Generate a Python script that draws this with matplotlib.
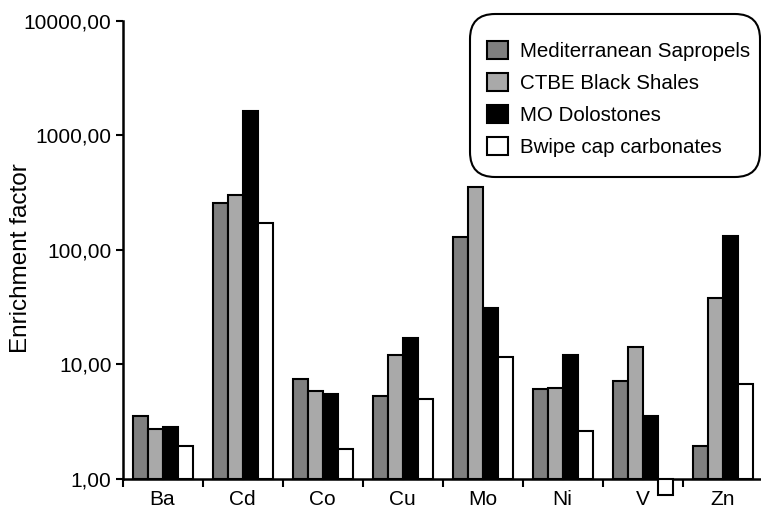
import numpy as np
import matplotlib
matplotlib.use("Agg")
import matplotlib.pyplot as plt
from matplotlib.patches import FancyBboxPatch

plt.rcParams['font.family'] = ['Liberation Sans', 'DejaVu Sans']

elements = ['Ba', 'Cd', 'Co', 'Cu', 'Mo', 'Ni', 'V', 'Zn']
series = ['Mediterranean Sapropels', 'CTBE Black Shales',
          'MO Dolostones', 'Bwipe cap carbonates']
sapropels = [3.55, 257, 7.5, 5.3, 130, 6.1, 7.2, 1.94]
black_shales = [2.73, 302, 5.9, 12.1, 355, 6.2, 14.2, 38]
dolostones = [2.85, 1640, 5.5, 17.0, 31, 12.1, 3.55, 132]
cap_carbonates = [1.94, 172, 1.83, 5.0, 11.6, 2.62, 0.72, 6.8]
colors = ['#7f7f7f', '#a9a9a9', '#000000', '#ffffff']
yticks = [1, 10, 100, 1000, 10000]
ytick_labels = ['1,00', '10,00', '100,00', '1000,00', '10000,00']

fig = plt.figure(figsize=(7.61, 5.12), dpi=100)
ax = fig.add_axes([0.161, 0.0645, 0.841, 0.8945])
ax.set_yscale('log')

x = np.arange(len(elements)) + 0.5
w = 0.1875
data = [sapropels, black_shales, dolostones, cap_carbonates]
for i, vals in enumerate(data):
    vals = np.array(vals)
    # bars start at 1 so values below 1 hang under the axis
    ax.bar(x + (i - 1.5) * w, vals - 1, bottom=1, width=w,
           color=colors[i], edgecolor='black', linewidth=1.5,
           label=series[i], clip_on=False, zorder=3)

ax.set_xlim(0, len(elements))
ax.set_ylim(1, 10000)
ax.set_yticks(yticks)
ax.set_yticklabels(ytick_labels)
ax.yaxis.set_minor_locator(matplotlib.ticker.NullLocator())
ax.set_xticks(np.arange(len(elements) + 1))
ax.set_xticklabels([])
ax.set_xticks(x, minor=True)
ax.set_xticklabels(elements, minor=True)
ax.tick_params(axis='x', which='major', direction='out', length=6, width=1.5)
ax.tick_params(axis='x', which='minor', length=0, pad=8, labelsize=15)
ax.tick_params(axis='y', direction='out', length=5, width=1.5,
               labelsize=15, pad=3)

for s in ['top', 'right']:
    ax.spines[s].set_visible(False)
for s in ['left', 'bottom']:
    ax.spines[s].set_linewidth(1.8)

ax.set_ylabel('Enrichment factor', fontsize=17.5)
ax.yaxis.set_label_coords(-0.142, 0.482)

# rounded legend box, drawn separately (inches)
box = FancyBboxPatch((4.70, 3.35), 2.90, 1.63,
                     boxstyle='round,pad=0,rounding_size=0.25',
                     transform=fig.dpi_scale_trans, facecolor='white',
                     edgecolor='black', linewidth=1.5, zorder=5,
                     clip_on=False)
ax.add_patch(box)

leg = ax.legend(loc='upper left', bbox_to_anchor=(4.87, 4.71),
                bbox_transform=fig.dpi_scale_trans, fontsize=14.8,
                frameon=False, handlelength=1.0, handleheight=1.0,
                handletextpad=0.6, labelspacing=0.57, borderpad=0,
                borderaxespad=0)
leg.set_zorder(6)

fig.savefig('out.png', dpi=100)
